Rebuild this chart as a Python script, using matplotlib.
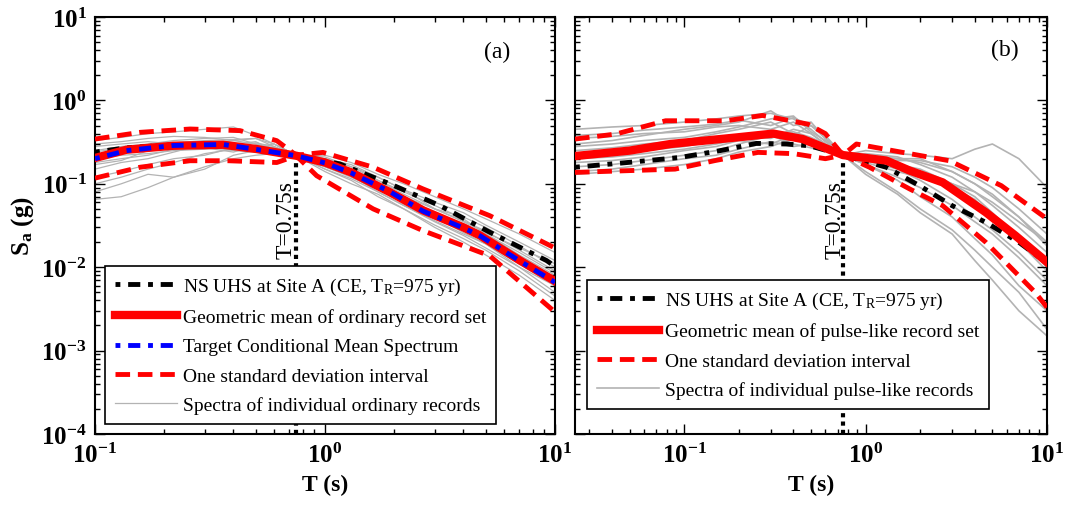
import matplotlib
matplotlib.use("Agg")
import matplotlib.pyplot as plt
from matplotlib.ticker import LogLocator, NullFormatter, FixedLocator

plt.rcParams['font.family'] = ['Liberation Serif', 'DejaVu Serif']
plt.rcParams['mathtext.fontset'] = 'custom'
plt.rcParams['mathtext.rm'] = 'Liberation Serif'
plt.rcParams['mathtext.it'] = 'Liberation Serif:italic'
plt.rcParams['mathtext.bf'] = 'Liberation Serif:bold'
plt.rcParams['mathtext.default'] = 'regular'

# -----------------------------
# Panel (a): ordinary records
# -----------------------------
ta_mean = [0.1, 0.137, 0.219, 0.361, 0.505, 0.75, 1.0, 1.3, 1.92, 2.67, 4.0, 4.72, 7.05, 10]
sa_mean = [0.204, 0.256, 0.286, 0.294, 0.261, 0.217, 0.18, 0.137, 0.079, 0.048, 0.030, 0.024, 0.012, 0.0068]
sa_cms = [0.2, 0.25, 0.288, 0.296, 0.258, 0.217, 0.178, 0.135, 0.08, 0.047, 0.0295, 0.0238, 0.0118, 0.0066]

ta_uhs = [0.1, 0.137, 0.219, 0.361, 0.5, 0.75, 1.16, 1.92, 3.16, 5.2, 9.2, 10]
sa_uhs = [0.24, 0.27, 0.294, 0.296, 0.265, 0.217, 0.173, 0.0995, 0.0547, 0.0263, 0.012, 0.0102]

ta_up = [0.1, 0.157, 0.259, 0.427, 0.617, 0.75, 0.98, 1.62, 2.67, 5.2, 10]
sa_up = [0.344, 0.414, 0.454, 0.434, 0.329, 0.22, 0.238, 0.158, 0.0867, 0.0415, 0.017]
ta_lo = [0.1, 0.157, 0.259, 0.38, 0.617, 0.75, 0.92, 1.62, 2.67, 5.2, 10]
sa_lo = [0.117, 0.158, 0.189, 0.189, 0.18, 0.217, 0.125, 0.05, 0.0274, 0.0137, 0.0029]

ta_rec = [0.1, 0.13, 0.17, 0.22, 0.3, 0.4, 0.5, 0.6, 0.75, 1.0, 1.3, 1.7, 2.2, 3.0, 4.0, 5.0, 7.0, 10]
recs_a = [
    [0.33, 0.36, 0.40, 0.42, 0.45, 0.48, 0.38, 0.30, 0.22, 0.20, 0.17, 0.12, 0.085, 0.06, 0.045, 0.032, 0.02, 0.012],
    [0.065, 0.07, 0.09, 0.12, 0.16, 0.20, 0.22, 0.23, 0.217, 0.15, 0.11, 0.07, 0.05, 0.032, 0.022, 0.016, 0.009, 0.0045],
    [0.08, 0.1, 0.13, 0.12, 0.15, 0.22, 0.25, 0.27, 0.22, 0.19, 0.13, 0.09, 0.07, 0.045, 0.03, 0.02, 0.011, 0.006],
    [0.25, 0.28, 0.3, 0.33, 0.35, 0.36, 0.3, 0.26, 0.22, 0.2, 0.16, 0.11, 0.075, 0.05, 0.036, 0.027, 0.016, 0.009],
    [0.15, 0.18, 0.2, 0.24, 0.3, 0.33, 0.35, 0.28, 0.215, 0.16, 0.12, 0.085, 0.06, 0.04, 0.026, 0.019, 0.011, 0.0065],
    [0.22, 0.24, 0.28, 0.26, 0.27, 0.3, 0.32, 0.25, 0.218, 0.22, 0.18, 0.13, 0.1, 0.07, 0.05, 0.038, 0.025, 0.015],
    [0.28, 0.3, 0.32, 0.3, 0.28, 0.25, 0.24, 0.23, 0.217, 0.14, 0.1, 0.075, 0.05, 0.03, 0.02, 0.014, 0.008, 0.004],
    [0.12, 0.14, 0.17, 0.2, 0.22, 0.27, 0.28, 0.3, 0.22, 0.18, 0.15, 0.1, 0.07, 0.05, 0.04, 0.03, 0.018, 0.01],
    [0.18, 0.2, 0.22, 0.26, 0.29, 0.31, 0.27, 0.24, 0.215, 0.17, 0.13, 0.1, 0.065, 0.038, 0.028, 0.021, 0.012, 0.0075],
    [0.3, 0.32, 0.35, 0.37, 0.36, 0.33, 0.3, 0.27, 0.22, 0.16, 0.125, 0.08, 0.055, 0.035, 0.024, 0.017, 0.01, 0.005],
    [0.2, 0.22, 0.23, 0.25, 0.26, 0.28, 0.31, 0.28, 0.218, 0.19, 0.15, 0.11, 0.08, 0.055, 0.038, 0.025, 0.014, 0.008],
    [0.1, 0.12, 0.15, 0.18, 0.23, 0.26, 0.24, 0.25, 0.216, 0.2, 0.14, 0.095, 0.065, 0.042, 0.033, 0.025, 0.015, 0.0085],
    [0.24, 0.27, 0.29, 0.31, 0.33, 0.34, 0.35, 0.3, 0.22, 0.15, 0.115, 0.08, 0.055, 0.036, 0.025, 0.019, 0.01, 0.006],
    [0.17, 0.19, 0.25, 0.28, 0.27, 0.24, 0.29, 0.26, 0.217, 0.21, 0.16, 0.12, 0.085, 0.05, 0.035, 0.026, 0.017, 0.011],
]

# -----------------------------
# Panel (b): pulse-like records
# -----------------------------
tb_mean = [0.025, 0.05, 0.084, 0.195, 0.31, 0.45, 0.75, 1.3, 1.75, 2.66, 4.6, 6.7, 10]
sb_mean = [0.215, 0.25, 0.30, 0.36, 0.40, 0.344, 0.221, 0.19, 0.144, 0.104, 0.0455, 0.0239, 0.0115]

tb_uhs = [0.025, 0.05, 0.095, 0.158, 0.25, 0.366, 0.49, 0.75, 1.3, 1.98, 3.0, 4.6, 7.0, 10]
sb_uhs = [0.158, 0.181, 0.207, 0.25, 0.305, 0.30, 0.286, 0.221, 0.158, 0.095, 0.0547, 0.0345, 0.0199, 0.0112]

tb_up = [0.025, 0.042, 0.079, 0.17, 0.27, 0.48, 0.6, 0.75, 0.89, 1.6, 2.9, 5.6, 10]
sb_up = [0.344, 0.395, 0.57, 0.57, 0.66, 0.52, 0.40, 0.221, 0.30, 0.238, 0.189, 0.095, 0.038]
tb_lo = [0.025, 0.089, 0.148, 0.255, 0.4, 0.6, 0.75, 1.05, 1.75, 2.66, 4.6, 8.6, 10]
sb_lo = [0.137, 0.15, 0.19, 0.238, 0.23, 0.2, 0.221, 0.158, 0.0867, 0.0547, 0.0199, 0.005, 0.0033]

tb_rec = [0.025, 0.04, 0.06, 0.1, 0.15, 0.2, 0.3, 0.4, 0.5, 0.6, 0.75, 1.0, 1.5, 2.0, 3.0, 4.0, 5.0, 7.0, 10]
recs_b = [
    [0.45, 0.48, 0.5, 0.55, 0.6, 0.65, 0.7, 0.6, 0.45, 0.32, 0.22, 0.22, 0.2, 0.18, 0.14, 0.1, 0.07, 0.04, 0.02],
    [0.13, 0.14, 0.15, 0.17, 0.2, 0.24, 0.28, 0.35, 0.3, 0.25, 0.22, 0.14, 0.08, 0.05, 0.028, 0.016, 0.01, 0.005, 0.0018],
    [0.3, 0.33, 0.38, 0.45, 0.5, 0.55, 0.75, 0.5, 0.55, 0.35, 0.22, 0.25, 0.23, 0.22, 0.2, 0.26, 0.3, 0.2, 0.09],
    [0.2, 0.22, 0.25, 0.28, 0.33, 0.38, 0.35, 0.45, 0.4, 0.3, 0.22, 0.17, 0.12, 0.09, 0.055, 0.035, 0.025, 0.013, 0.006],
    [0.16, 0.17, 0.19, 0.22, 0.25, 0.3, 0.38, 0.3, 0.27, 0.25, 0.22, 0.2, 0.17, 0.15, 0.1, 0.07, 0.045, 0.022, 0.01],
    [0.35, 0.37, 0.4, 0.42, 0.48, 0.5, 0.45, 0.55, 0.4, 0.3, 0.22, 0.23, 0.21, 0.17, 0.12, 0.08, 0.055, 0.03, 0.015],
    [0.25, 0.27, 0.3, 0.33, 0.4, 0.45, 0.55, 0.4, 0.35, 0.28, 0.22, 0.19, 0.15, 0.11, 0.065, 0.04, 0.028, 0.015, 0.007],
    [0.18, 0.19, 0.21, 0.25, 0.28, 0.33, 0.3, 0.38, 0.5, 0.35, 0.22, 0.2, 0.19, 0.19, 0.16, 0.12, 0.09, 0.05, 0.025],
    [0.14, 0.15, 0.17, 0.2, 0.22, 0.26, 0.32, 0.28, 0.3, 0.27, 0.22, 0.13, 0.075, 0.045, 0.025, 0.012, 0.007, 0.003, 0.0015],
    [0.28, 0.3, 0.33, 0.36, 0.42, 0.48, 0.6, 0.65, 0.42, 0.33, 0.22, 0.21, 0.16, 0.13, 0.1, 0.08, 0.06, 0.035, 0.02],
    [0.22, 0.24, 0.26, 0.3, 0.32, 0.35, 0.42, 0.36, 0.32, 0.26, 0.22, 0.21, 0.2, 0.2, 0.14, 0.1, 0.075, 0.04, 0.018],
    [0.38, 0.4, 0.44, 0.48, 0.52, 0.58, 0.5, 0.62, 0.5, 0.38, 0.22, 0.18, 0.14, 0.12, 0.09, 0.065, 0.04, 0.02, 0.009],
    [0.2, 0.21, 0.23, 0.26, 0.3, 0.34, 0.4, 0.42, 0.36, 0.3, 0.22, 0.17, 0.11, 0.07, 0.04, 0.022, 0.014, 0.006, 0.003],
]

t_cond = 0.75
dash_dot = (1, 1.6, 2.5, 1.6)
dashed = (3, 1.6)
gray = '#b3b3b3'

fig = plt.figure(figsize=(10.65, 5.06), dpi=100)
ax_a = fig.add_axes([95/1065, 71/506, 460/1065, 417/506])
ax_b = fig.add_axes([575/1065, 71/506, 472/1065, 417/506])


def style_axis(ax, xmin, ylabels):
    ax.set_xscale('log')
    ax.set_yscale('log')
    ax.set_xlim(xmin, 10)
    ax.set_ylim(1e-4, 10)
    ax.xaxis.set_major_locator(FixedLocator([0.1, 1, 10]))
    ax.xaxis.set_minor_locator(LogLocator(base=10, subs=range(2, 10), numticks=20))
    ax.yaxis.set_major_locator(FixedLocator([1e-4, 1e-3, 1e-2, 1e-1, 1, 10]))
    ax.yaxis.set_minor_locator(LogLocator(base=10, subs=range(2, 10), numticks=20))
    ax.xaxis.set_minor_formatter(NullFormatter())
    ax.yaxis.set_minor_formatter(NullFormatter())
    ax.set_xticklabels([r'$10^{-1}$', r'$10^{0}$', r'$10^{1}$'], fontsize=18, fontweight='bold')
    if ylabels:
        ax.set_yticklabels([r'$10^{-4}$', r'$10^{-3}$', r'$10^{-2}$', r'$10^{-1}$', r'$10^{0}$', r'$10^{1}$'],
                           fontsize=18, fontweight='bold')
    else:
        ax.set_yticklabels([])
    ax.tick_params(which='both', direction='in', top=True, right=True, width=1)
    ax.tick_params(which='major', length=7, pad=6)
    ax.tick_params(which='minor', length=3.5)
    for s in ax.spines.values():
        s.set_linewidth(1.5)
    ax.set_xlabel('T (s)', fontsize=17, fontweight='bold', labelpad=5)


def add_legend(ax, handles, anchor):
    leg = ax.legend(handles, [h.get_label() for h in handles],
                    loc='lower left', bbox_to_anchor=anchor, borderaxespad=0, fontsize=14,
                    frameon=True, fancybox=False, edgecolor='black', framealpha=1,
                    handlelength=3.2, handletextpad=0.3, labelspacing=0.6, borderpad=0.5)
    leg.get_frame().set_linewidth(1.2)


# panel (a)
for i, r in enumerate(recs_a):
    ax_a.plot(ta_rec, r, color=gray, lw=0.9,
              label='Spectra of individual ordinary records' if i == 0 else None, zorder=1)
h_uhs, = ax_a.plot(ta_uhs, sa_uhs, color='black', lw=3.5, dashes=dash_dot,
                   label=r'NS UHS at Site A (CE, $T_R$=975 yr)', zorder=3)
h_mean, = ax_a.plot(ta_mean, sa_mean, color='red', lw=6, label='Geometric mean of ordinary record set', zorder=4)
h_cms, = ax_a.plot(ta_mean, sa_cms, color='blue', lw=3.5, dashes=dash_dot,
                   label='Target Conditional Mean Spectrum', zorder=5)
h_sd, = ax_a.plot(ta_up, sa_up, color='red', lw=3.5, dashes=dashed, label='One standard deviation interval', zorder=3)
ax_a.plot(ta_lo, sa_lo, color='red', lw=3.5, dashes=dashed, zorder=3)
ax_a.plot([t_cond, t_cond], [1e-4, 0.2], color='black', lw=3, dashes=(1, 1), zorder=2)
ax_a.text(0.68, 0.038, 'T=0.75s', rotation=90, fontsize=17, ha='center', va='center')
ax_a.text(0.874, 0.918, '(a)', transform=ax_a.transAxes, fontsize=17, ha='center', va='center')
style_axis(ax_a, 0.1, True)
ax_a.set_ylabel(r'$S_a$ (g)', fontsize=18, fontweight='bold', labelpad=4)
add_legend(ax_a, [h_uhs, h_mean, h_cms, h_sd, ax_a.lines[0]], (0.022, 0.024))

# panel (b)
for i, r in enumerate(recs_b):
    ax_b.plot(tb_rec, r, color=gray, lw=1.2,
              label='Spectra of individual pulse-like records' if i == 0 else None, zorder=1)
hb_uhs, = ax_b.plot(tb_uhs, sb_uhs, color='black', lw=3.5, dashes=dash_dot,
                    label=r'NS UHS at Site A (CE, $T_R$=975 yr)', zorder=3)
hb_mean, = ax_b.plot(tb_mean, sb_mean, color='red', lw=6, label='Geometric mean of pulse-like record set', zorder=4)
hb_sd, = ax_b.plot(tb_up, sb_up, color='red', lw=3.5, dashes=dashed, label='One standard deviation interval', zorder=3)
ax_b.plot(tb_lo, sb_lo, color='red', lw=3.5, dashes=dashed, zorder=3)
ax_b.plot([t_cond, t_cond], [1e-4, 0.2], color='black', lw=3, dashes=(1, 1), zorder=2)
ax_b.text(0.68, 0.038, 'T=0.75s', rotation=90, fontsize=17, ha='center', va='center')
ax_b.text(0.911, 0.922, '(b)', transform=ax_b.transAxes, fontsize=17, ha='center', va='center')
style_axis(ax_b, 0.025, False)
add_legend(ax_b, [hb_uhs, hb_mean, hb_sd, ax_b.lines[0]], (0.025, 0.06))

fig.savefig('out.png', dpi=100)
